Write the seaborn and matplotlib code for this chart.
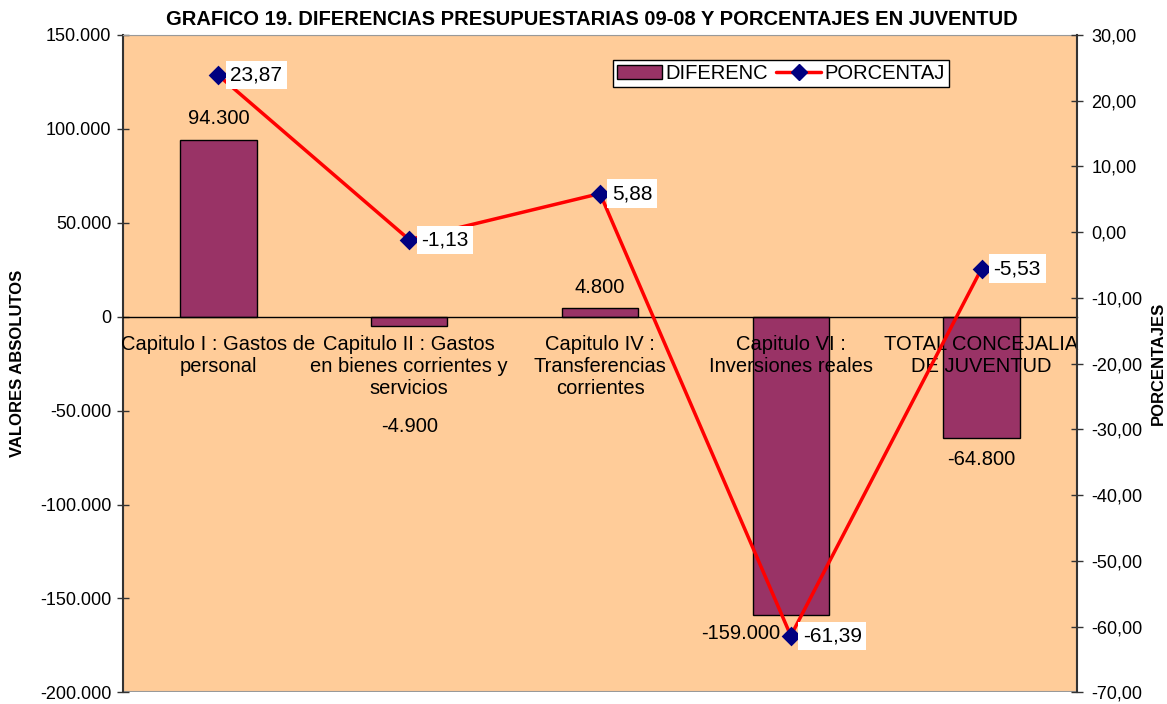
import matplotlib
matplotlib.use("Agg")
import matplotlib.pyplot as plt
import matplotlib.ticker as mticker
import matplotlib.patches as mpatches
import matplotlib.lines as mlines
import pandas as pd
import seaborn as sns

categorias = [
    "Capitulo I : Gastos de\npersonal",
    "Capitulo II : Gastos\nen bienes corrientes y\nservicios",
    "Capitulo IV :\nTransferencias\ncorrientes",
    "Capitulo VI :\nInversiones reales",
    "TOTAL CONCEJALIA\nDE JUVENTUD",
]
diferencias = [94300, -4900, 4800, -159000, -64800]
porcentajes = [23.87, -1.13, 5.88, -61.39, -5.53]

etiquetas_dif = ["94.300", "-4.900", "4.800", "-159.000", "-64.800"]
etiquetas_pct = ["23,87", "-1,13", "5,88", "-61,39", "-5,53"]

sns.set_style("white")
plt.rcParams["font.family"] = ["Liberation Sans", "DejaVu Sans"]
plt.rcParams["text.color"] = "black"
plt.rcParams["axes.labelcolor"] = "black"
plt.rcParams["xtick.labelcolor"] = "black"
plt.rcParams["ytick.labelcolor"] = "black"

df = pd.DataFrame({"cat": categorias, "dif": diferencias, "pct": porcentajes})

fig = plt.figure(figsize=(11.67, 7.04), dpi=100)
ax = fig.add_axes([0.1054, 0.0165, 0.8175, 0.9338])
ax.set_facecolor("#FFCC99")

sns.barplot(data=df, x="cat", y="dif", color="#993366", width=0.4,
            edgecolor="black", linewidth=1, saturation=1, ax=ax)
ax.set_ylim(-200000, 150000)
ax.set_xlim(-0.5, 4.5)
ax.yaxis.set_major_locator(mticker.MultipleLocator(50000))
ax.yaxis.set_major_formatter(mticker.FuncFormatter(
    lambda v, p: f"{v:,.0f}".replace(",", ".")))

# eje de categorias en el cero, por encima de las barras
ax.spines["bottom"].set_position(("data", 0))
ax.spines["bottom"].set_linewidth(1)
ax.spines["bottom"].set_color("black")
ax.spines["bottom"].set_zorder(3)
ax.xaxis.set_zorder(3)
ax.spines["left"].set_color("#333333")
ax.spines["left"].set_linewidth(1.5)
ax.spines["top"].set_color("#999999")
ax.spines["right"].set_visible(False)
ax.add_patch(mpatches.Rectangle((0, 0), 1, 1, transform=ax.transAxes,
                                fill=False, edgecolor="#999999", lw=1.5,
                                zorder=0.5))
ax.set_xticks(range(5))
ax.set_xticklabels(categorias, fontsize=14.5, linespacing=1.2)
ax.tick_params(axis="x", which="major", length=0, pad=13)
ax.set_xticks([0.5, 1.5, 2.5, 3.5], minor=True)
ax.tick_params(axis="x", which="minor", direction="inout", length=9,
               width=1, color="#333333")
ax.tick_params(axis="y", direction="inout", length=9, width=1,
               labelsize=13, pad=4, left=True, color="#333333")
ax.set_xlabel("")
ax.set_ylabel("VALORES ABSOLUTOS", fontsize=12, fontweight="bold")
ax.yaxis.set_label_coords(-0.1027, 0.5)

offsets = [(0, 21), (0, -101), (0, 20), (-50, -18), (0, -21)]
for i, (v, t) in enumerate(zip(diferencias, etiquetas_dif)):
    ax.annotate(t, xy=(i, v), xytext=offsets[i], textcoords="offset pixels",
                ha="center", va="center", fontsize=14.5)

ax2 = ax.twinx()
sns.pointplot(data=df, x="cat", y="pct", color="red", markers="D",
              linewidth=2.5, markersize=8, ax=ax2, zorder=5)
for coll in ax2.collections:
    coll.set_facecolor("#000080")
    coll.set_edgecolor("#000080")
for ln in ax2.lines:
    ln.set_markerfacecolor("#000080")
    ln.set_markeredgecolor("#000080")
ax2.set_ylim(-70, 30)
ax2.set_xlim(-0.5, 4.5)
ax2.yaxis.set_major_locator(mticker.MultipleLocator(10))
ax2.yaxis.set_major_formatter(mticker.FuncFormatter(
    lambda v, p: f"{v:.2f}".replace(".", ",")))
ax2.tick_params(axis="y", direction="inout", length=9, width=1,
                labelsize=13, pad=6, right=True, color="#333333")
for s in ["top", "left", "bottom"]:
    ax2.spines[s].set_visible(False)
ax2.spines["right"].set_color("#333333")
ax2.spines["right"].set_linewidth(1.5)
ax2.set_xlabel("")
ax2.set_ylabel("PORCENTAJES", fontsize=12, fontweight="bold", rotation=90)
ax2.yaxis.set_label_coords(1.0776, 0.5)

for i, (v, t) in enumerate(zip(porcentajes, etiquetas_pct)):
    ax2.annotate(t, xy=(i, v), xytext=(12, 0), textcoords="offset pixels",
                 ha="left", va="center", fontsize=15, zorder=6,
                 bbox=dict(boxstyle="square,pad=0.22", fc="white", ec="none"))

h_bar = mpatches.Patch(facecolor="#993366", edgecolor="black", lw=1)
h_lin = mlines.Line2D([], [], color="red", lw=2.5, marker="D",
                      markersize=8, markerfacecolor="#000080",
                      markeredgecolor="#000080")
leg = ax2.legend([h_bar, h_lin], ["DIFERENC", "PORCENTAJ"], ncol=2,
                 loc="upper left", bbox_to_anchor=(0.514, 0.962),
                 fontsize=14.5, frameon=True, fancybox=False, framealpha=1,
                 edgecolor="black", borderpad=0.2, handlelength=2.2,
                 handletextpad=0.2, columnspacing=0.4, borderaxespad=0)
leg.get_frame().set_linewidth(1)

fig.text(0.507, 0.972, "GRAFICO 19. DIFERENCIAS PRESUPUESTARIAS 09-08 Y PORCENTAJES EN JUVENTUD",
         ha="center", va="center", fontsize=14.5, fontweight="bold")

fig.savefig("out.png", dpi=100)
